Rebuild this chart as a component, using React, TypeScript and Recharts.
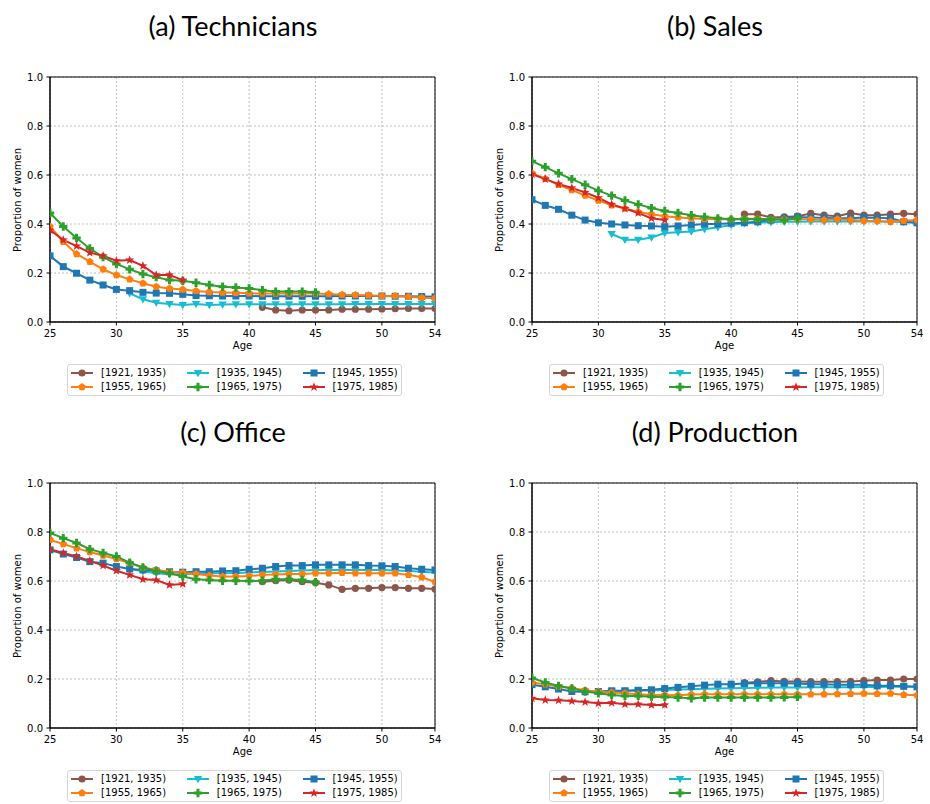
import React from "react";
import { LineChart, Line, XAxis, YAxis, CartesianGrid, ReferenceArea } from "recharts";

const AGES = [25,26,27,28,29,30,31,32,33,34,35,36,37,38,39,40,41,42,43,44,45,46,47,48,49,50,51,52,53,54];
const X_TICKS = [25,30,35,40,45,50,54];
const Y_TICKS = [0,0.2,0.4,0.6,0.8,1.0];

// first age of each cohort's series
const START = { c1921: 41, c1935: 31, c1945: 25, c1955: 25, c1965: 25, c1975: 25 };

// (a) Technicians
const T1921 = [0.06,0.049,0.046,0.049,0.049,0.049,0.052,0.052,0.052,0.053,0.054,0.055,0.055,0.055];
const T1935 = [0.117,0.093,0.079,0.073,0.069,0.073,0.069,0.071,0.072,0.072,0.072,0.072,0.072,0.072,0.072,0.072,0.072,0.073,0.073,0.073,0.073,0.073,0.073,0.073];
const T1945 = [0.27,0.226,0.199,0.171,0.151,0.133,0.128,0.121,0.118,0.117,0.113,0.108,0.107,0.106,0.106,0.106,0.105,0.105,0.105,0.105,0.105,0.105,0.106,0.106,0.106,0.106,0.105,0.105,0.104,0.103];
const T1955 = [0.39,0.328,0.278,0.246,0.215,0.192,0.174,0.158,0.144,0.137,0.133,0.127,0.122,0.12,0.119,0.117,0.116,0.116,0.116,0.116,0.116,0.114,0.111,0.11,0.109,0.106,0.106,0.103,0.099,0.097];
const T1965 = [0.445,0.39,0.343,0.3,0.265,0.237,0.215,0.196,0.183,0.171,0.168,0.16,0.151,0.144,0.141,0.137,0.13,0.124,0.124,0.124,0.121];
const T1975 = [0.375,0.335,0.31,0.283,0.27,0.25,0.253,0.229,0.192,0.192,0.171];

// (b) Sales
const S1921 = [0.44,0.44,0.427,0.429,0.432,0.443,0.436,0.432,0.445,0.436,0.436,0.44,0.443,0.44];
const S1935 = [0.359,0.336,0.336,0.345,0.363,0.366,0.369,0.379,0.387,0.396,0.403,0.405,0.407,0.409,0.409,0.41,0.41,0.41,0.41,0.41,0.41,0.409,0.408,0.405];
const S1945 = [0.499,0.476,0.46,0.436,0.416,0.405,0.4,0.396,0.393,0.392,0.389,0.392,0.396,0.4,0.4,0.403,0.405,0.409,0.416,0.423,0.429,0.427,0.425,0.423,0.423,0.427,0.425,0.423,0.409,0.405];
const S1955 = [0.607,0.585,0.56,0.539,0.516,0.496,0.476,0.463,0.449,0.44,0.432,0.427,0.423,0.42,0.419,0.419,0.421,0.421,0.419,0.419,0.419,0.419,0.416,0.419,0.416,0.413,0.412,0.409,0.413,0.416];
const S1965 = [0.656,0.632,0.607,0.583,0.56,0.536,0.516,0.496,0.48,0.465,0.453,0.445,0.436,0.429,0.423,0.419,0.42,0.419,0.419,0.416,0.423];
const S1975 = [0.603,0.583,0.563,0.547,0.529,0.507,0.48,0.463,0.445,0.423,0.416];

// (c) Office
const O1921 = [0.597,0.601,0.604,0.597,0.593,0.584,0.566,0.57,0.57,0.573,0.573,0.57,0.57,0.567];
const O1935 = [0.65,0.64,0.632,0.628,0.628,0.63,0.632,0.632,0.633,0.635,0.637,0.639,0.641,0.643,0.645,0.645,0.645,0.645,0.645,0.645,0.643,0.641,0.638,0.635];
const O1945 = [0.727,0.71,0.696,0.679,0.673,0.659,0.649,0.645,0.641,0.638,0.636,0.638,0.638,0.641,0.642,0.648,0.652,0.659,0.663,0.663,0.666,0.666,0.666,0.666,0.663,0.662,0.659,0.652,0.648,0.645];
const O1955 = [0.768,0.751,0.734,0.718,0.704,0.69,0.673,0.655,0.645,0.638,0.634,0.629,0.622,0.618,0.618,0.62,0.625,0.627,0.629,0.629,0.632,0.632,0.634,0.632,0.632,0.632,0.632,0.625,0.615,0.597];
const O1965 = [0.796,0.775,0.755,0.73,0.714,0.7,0.675,0.655,0.641,0.632,0.618,0.607,0.604,0.601,0.601,0.6,0.601,0.607,0.607,0.604,0.595];
const O1975 = [0.73,0.714,0.7,0.682,0.663,0.642,0.625,0.607,0.604,0.584,0.588];

// (d) Production
const P1921 = [0.185,0.188,0.193,0.19,0.19,0.189,0.189,0.189,0.19,0.193,0.196,0.196,0.2,0.2];
const P1935 = [0.15,0.152,0.153,0.153,0.155,0.157,0.158,0.16,0.161,0.162,0.163,0.164,0.165,0.165,0.165,0.166,0.166,0.166,0.166,0.167,0.167,0.168,0.168,0.168];
const P1945 = [0.177,0.168,0.159,0.149,0.148,0.149,0.152,0.152,0.154,0.156,0.161,0.166,0.17,0.175,0.179,0.179,0.182,0.183,0.183,0.183,0.182,0.179,0.179,0.177,0.177,0.177,0.172,0.172,0.17,0.168];
const P1955 = [0.186,0.179,0.168,0.163,0.154,0.148,0.145,0.142,0.138,0.135,0.135,0.134,0.137,0.138,0.138,0.138,0.138,0.138,0.138,0.138,0.138,0.138,0.138,0.139,0.14,0.141,0.14,0.141,0.136,0.134];
const P1965 = [0.204,0.186,0.172,0.161,0.149,0.142,0.135,0.131,0.131,0.128,0.127,0.124,0.121,0.124,0.124,0.124,0.124,0.124,0.124,0.125,0.127];
const P1975 = [0.121,0.114,0.113,0.11,0.106,0.101,0.103,0.097,0.097,0.094,0.094];

const COHORTS = [
  { key: "c1921", label: "[1921, 1935)", color: "#8c564b", shape: "circle" },
  { key: "c1935", label: "[1935, 1945)", color: "#17becf", shape: "tri" },
  { key: "c1945", label: "[1945, 1955)", color: "#1f77b4", shape: "square" },
  { key: "c1955", label: "[1955, 1965)", color: "#ff7f0e", shape: "pent" },
  { key: "c1965", label: "[1965, 1975)", color: "#2ca02c", shape: "plus" },
  { key: "c1975", label: "[1975, 1985)", color: "#d62728", shape: "star" },
];

const FONT = "'DejaVu Sans', sans-serif";

function buildRows(series: Record<string, number[]>) {
  return AGES.map(age => {
    const row: Record<string, number | undefined> = { age };
    Object.entries(series).forEach(([k, arr]) => {
      const i = age - (START as any)[k];
      row[k] = i >= 0 && i < arr.length ? arr[i] : undefined;
    });
    return row;
  });
}

function Marker({ shape, color, cx, cy }: { shape: string; color: string; cx: number; cy: number }) {
  if (shape === "circle") return <circle cx={cx} cy={cy} r={3.6} fill={color} />;
  if (shape === "square") return <rect x={cx - 3.5} y={cy - 3.5} width={7} height={7} fill={color} />;
  if (shape === "tri")
    return <polygon points={`${cx - 4.2},${cy - 3} ${cx + 4.2},${cy - 3} ${cx},${cy + 4.2}`} fill={color} />;
  if (shape === "plus") {
    const a = 4.2, w = 1.5;
    return (
      <polygon fill={color} points={`${cx - w},${cy - a} ${cx + w},${cy - a} ${cx + w},${cy - w} ${cx + a},${cy - w} ${cx + a},${cy + w} ${cx + w},${cy + w} ${cx + w},${cy + a} ${cx - w},${cy + a} ${cx - w},${cy + w} ${cx - a},${cy + w} ${cx - a},${cy - w} ${cx - w},${cy - w}`} />
    );
  }
  const n = shape === "pent" ? 5 : 10;
  const pts: string[] = [];
  for (let i = 0; i < n; i++) {
    const ang = -Math.PI / 2 + (i * 2 * Math.PI) / n;
    const r = shape === "pent" ? 4 : i % 2 === 0 ? 4.8 : 2;
    pts.push(`${cx + r * Math.cos(ang)},${cy + r * Math.sin(ang)}`);
  }
  return <polygon points={pts.join(" ")} fill={color} />;
}

function Legend({ left, top }: { left: number; top: number }) {
  return (
    <div style={{ position: "absolute", left, top, width: 335, height: 32, boxSizing: "border-box", border: "1px solid #d5d5d5", borderRadius: 3, background: "#fff" }}>
      {COHORTS.map((c, i) => {
        // 3 columns, 2 rows
        const x = 2 + (i % 3) * 115.8;
        const y = i < 3 ? 1 : 15;
        return (
          <div key={c.key} style={{ position: "absolute", left: x, top: y, height: 14, display: "flex", alignItems: "center" }}>
            <svg width={24} height={14} style={{ display: "block" }}>
              <line x1={1} x2={23} y1={7} y2={7} stroke={c.color} strokeWidth={2} />
              <Marker shape={c.shape} color={c.color} cx={12} cy={7} />
            </svg>
            <span style={{ marginLeft: 7, fontFamily: FONT, fontSize: 10, lineHeight: "14px", whiteSpace: "nowrap", color: "#000" }}>{c.label}</span>
          </div>
        );
      })}
    </div>
  );
}

function Panel({ title, rows, left, top }: { title: string; rows: any[]; left: number; top: number }) {
  return (
    <div style={{ position: "absolute", left, top, width: 465, height: 400 }}>
      <div style={{ position: "absolute", left: 0, width: 466, top: 10, textAlign: "center", fontFamily: "Lato, sans-serif", fontSize: 27, lineHeight: "32px", color: "#000" }}>
        {title}
      </div>
      <div style={{ position: "absolute", left: 18, top: 199.5, width: 0, height: 0 }}>
        <div style={{ position: "absolute", transform: "translate(-50%,-50%) rotate(-90deg)", whiteSpace: "nowrap", fontFamily: FONT, fontSize: 10, lineHeight: "12px" }}>
          Proportion of women
        </div>
      </div>
      <div style={{ position: "absolute", left: 50, width: 385, top: 340, textAlign: "center", fontFamily: FONT, fontSize: 10, lineHeight: "12px" }}>
        Age
      </div>
      <div style={{ position: "absolute", left: 0, top: 70 }}>
        <LineChart width={450} height={290} data={rows} margin={{ top: 7, right: 15, bottom: 8, left: 15 }}>
          <CartesianGrid stroke="#b0b0b0" strokeDasharray="2 2" strokeWidth={0.8} />
          <XAxis dataKey="age" type="number" domain={[25, 54]} ticks={X_TICKS} allowDataOverflow height={30}
            tickSize={3.5} tickMargin={4.5} interval={0}
            tick={{ fill: "#000", fontSize: 10, fontFamily: FONT }}
            axisLine={{ stroke: "#000" }} tickLine={{ stroke: "#000" }} />
          <YAxis type="number" domain={[0, 1]} ticks={Y_TICKS} allowDataOverflow width={35}
            tickSize={3.5} tickMargin={3.5} interval={0}
            tickFormatter={(v: number) => v.toFixed(1)}
            tick={{ fill: "#000", fontSize: 10, fontFamily: FONT }}
            axisLine={{ stroke: "#000" }} tickLine={{ stroke: "#000" }} />
          {COHORTS.map(c => (
            <Line key={c.key} dataKey={c.key} stroke={c.color} strokeWidth={2} isAnimationActive={false}
              activeDot={false} connectNulls={false}
              dot={(p: any) => (p.cx == null || p.cy == null || p.value == null
                ? <g key={`${c.key}-${p.index}`} />
                : <g key={`${c.key}-${p.index}`}><Marker shape={c.shape} color={c.color} cx={p.cx} cy={p.cy} /></g>)} />
          ))}
          <ReferenceArea x1={25} x2={54} y1={0} y2={1} fill="none" fillOpacity={0} stroke="#000" strokeWidth={1} />
        </LineChart>
      </div>
      <Legend left={67} top={364} />
    </div>
  );
}

const techRows = buildRows({ c1921: T1921, c1935: T1935, c1945: T1945, c1955: T1955, c1965: T1965, c1975: T1975 });
const salesRows = buildRows({ c1921: S1921, c1935: S1935, c1945: S1945, c1955: S1955, c1965: S1965, c1975: S1975 });
const officeRows = buildRows({ c1921: O1921, c1935: O1935, c1945: O1945, c1955: O1955, c1965: O1965, c1975: O1975 });
const prodRows = buildRows({ c1921: P1921, c1935: P1935, c1945: P1945, c1955: P1955, c1965: P1965, c1975: P1975 });

export default function App() {
  return (
    <div style={{ position: "absolute", left: 0, top: 0, width: 930, height: 804, background: "#fff", overflow: "hidden" }}>
      <Panel title="(a) Technicians" rows={techRows} left={0} top={0} />
      <Panel title="(b) Sales" rows={salesRows} left={482} top={0} />
      <Panel title="(c) Office" rows={officeRows} left={0} top={406} />
      <Panel title="(d) Production" rows={prodRows} left={482} top={406} />
    </div>
  );
}
